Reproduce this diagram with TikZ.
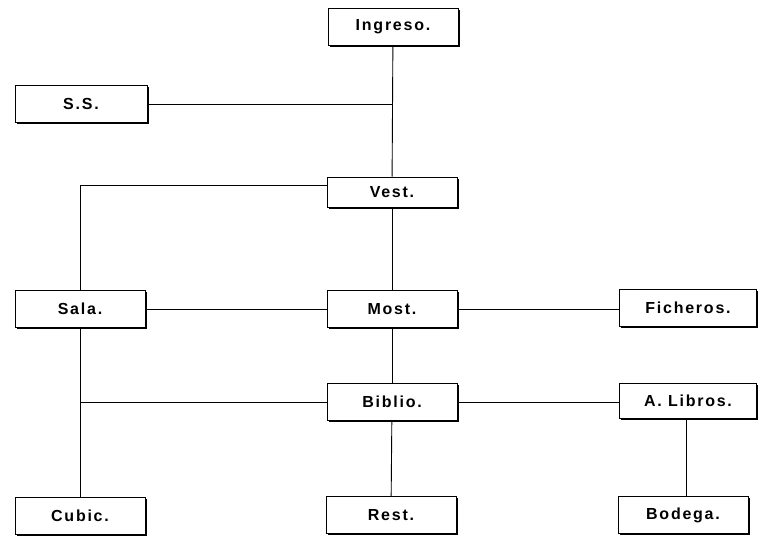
\documentclass[tikz,border=0pt]{standalone}
\usepackage{fontspec}
\newfontfamily\roomfont{Liberation Sans}[LetterSpace=11]
\usetikzlibrary{shadows}

\begin{document}
\begin{tikzpicture}[
  x=1pt, y=-1pt,
  room/.style={draw=black, line width=0.7pt, fill=white, minimum width=130pt,
    minimum height=37pt, inner sep=0pt,
    font=\roomfont\bfseries\fontsize{16}{18}\selectfont,
    drop shadow={shadow xshift=1.6pt, shadow yshift=-1.8pt, fill=black, opacity=1}},
  link/.style={line width=0.9pt, draw=black}
]
\useasboundingbox (0,0) rectangle (772,547);

% Rooms, placed on the plan grid.
\node[room] (ingreso) at (393,27) {Ingreso.};
\node[room, minimum width=132pt] (ss) at (81,104) {S.S.};
\node[room, minimum height=30pt] (vest) at (392,192) {Vest.};
\node[room] (sala) at (80,309) {Sala.};
\node[room] (most) at (392,309) {Most.};
\node[room, minimum width=137pt] (fich) at (688,308) {Ficheros.};
\node[room] (biblio) at (392,402) {Biblio.};
\node[room, minimum width=137pt, minimum height=35pt] (alib) at (688,401) {A. Libros.};
\node[room] (cubic) at (80,516) {Cubic.};
\node[room] (rest) at (391,515) {Rest.};
\node[room] (bodega) at (683,515) {Bodega.};

% Links between rooms.
\draw[link] (ingreso) -- (vest);
\draw[link] (ss.east) -- (ss.east -| ingreso);
\draw[link] ([yshift=7pt]vest.west) -| (sala);
\draw[link] (vest) -- (most);
\draw[link] (sala) -- (most);
\draw[link] (most) -- (most -| fich.west);
\draw[link] (most) -- (biblio);
\draw[link] (sala) -- (cubic);
\draw[link] (biblio.west) -- (biblio.west -| sala);
\draw[link] (biblio.east) -- (biblio.east -| alib.west);
\draw[link] (biblio) -- (rest);
\draw[link] (alib.south -| bodega.north) ++(3pt,0) -- ([xshift=3pt]bodega.north);

\end{tikzpicture}
\end{document}
